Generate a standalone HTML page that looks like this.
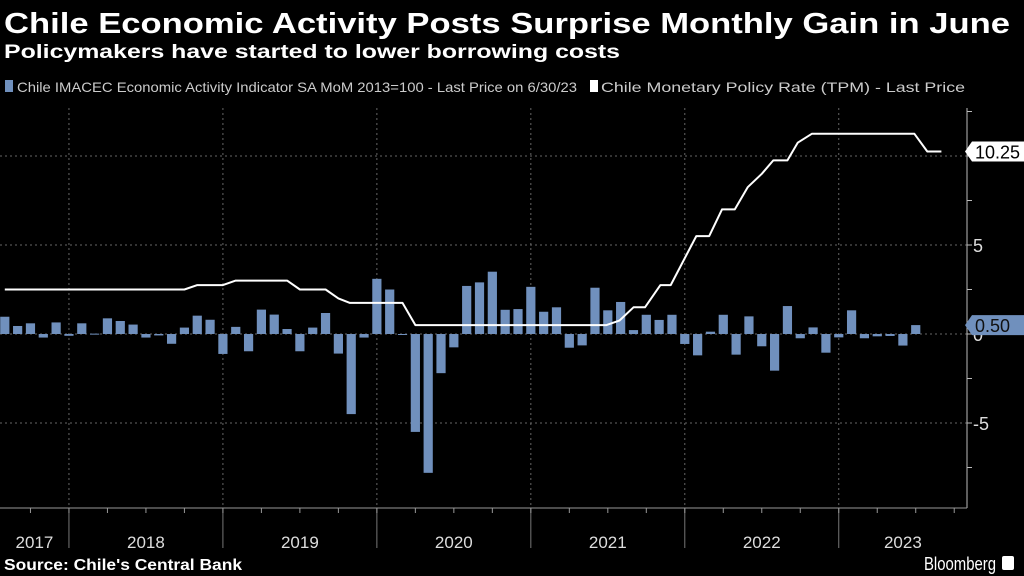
<!DOCTYPE html>
<html><head><meta charset="utf-8"><style>
html,body{margin:0;padding:0;background:#000;width:1024px;height:576px;overflow:hidden}
svg{display:block;font-family:"Liberation Sans",sans-serif}
</style></head><body>
<svg id="chart" width="1024" height="576" viewBox="0 0 1024 576" xmlns="http://www.w3.org/2000/svg">
<rect width="1024" height="576" fill="#000"/>
<text x="4" y="33" fill="#fff" font-weight="bold" font-size="29" textLength="1006" lengthAdjust="spacingAndGlyphs">Chile Economic Activity Posts Surprise Monthly Gain in June</text>
<text x="4" y="58" fill="#fff" font-weight="bold" font-size="19" textLength="616" lengthAdjust="spacingAndGlyphs">Policymakers have started to lower borrowing costs</text>
<rect x="5" y="80" width="8" height="12" fill="#7090bd"/>
<text x="17" y="92" fill="#ccc" font-size="14" textLength="560" lengthAdjust="spacingAndGlyphs">Chile IMACEC Economic Activity Indicator SA MoM 2013=100 - Last Price on 6/30/23</text>
<rect x="590" y="80" width="8" height="12" fill="#fff"/>
<text x="601" y="92" fill="#ccc" font-size="14" textLength="364" lengthAdjust="spacingAndGlyphs">Chile Monetary Policy Rate (TPM) - Last Price</text>
<g id="grid"></g><g id="bars"></g><g id="line"></g><g id="axes"></g>
<text x="4" y="570" fill="#fff" font-weight="bold" font-size="16" textLength="238" lengthAdjust="spacingAndGlyphs">Source: Chile's Central Bank</text>
<text x="924" y="570" fill="#fff" font-size="18" textLength="72" lengthAdjust="spacingAndGlyphs">Bloomberg</text>
<rect x="1002" y="556" width="12" height="14" rx="2" fill="#fff"/>
</svg>
<script>
const months = ["Jul17","Aug17","Sep17","Oct17","Nov17","Dec17","Jan18","Feb18","Mar18","Apr18","May18","Jun18","Jul18","Aug18","Sep18","Oct18","Nov18","Dec18","Jan19","Feb19","Mar19","Apr19","May19","Jun19","Jul19","Aug19","Sep19","Oct19","Nov19","Dec19","Jan20","Feb20","Mar20","Apr20","May20","Jun20","Jul20","Aug20","Sep20","Oct20","Nov20","Dec20","Jan21","Feb21","Mar21","Apr21","May21","Jun21","Jul21","Aug21","Sep21","Oct21","Nov21","Dec21","Jan22","Feb22","Mar22","Apr22","May22","Jun22","Jul22","Aug22","Sep22","Oct22","Nov22","Dec22","Jan23","Feb23","Mar23","Apr23","May23","Jun23"];
const imacec = [0.97,0.45,0.6,-0.2,0.65,-0.1,0.6,0.02,0.88,0.73,0.53,-0.2,-0.08,-0.55,0.36,1.03,0.8,-1.12,0.4,-0.97,1.37,1.09,0.28,-0.97,0.36,1.18,-1.1,-4.5,-0.2,3.1,2.5,-0.05,-5.5,-7.8,-2.2,-0.75,2.7,2.9,3.5,1.36,1.4,2.65,1.25,1.5,-0.77,-0.64,2.6,1.33,1.8,0.22,1.08,0.79,1.08,-0.56,-1.2,0.13,1.08,-1.16,0.99,-0.69,-2.06,1.57,-0.24,0.37,-1.05,-0.19,1.33,-0.24,-0.13,-0.11,-0.65,0.5];
const tpmMonths = [0,14.0,15.0,17.0,18.0,22.0,23.0,25.0,26.0,26.9,31.0,32.0,46.9,47.9,49.0,49.9,51.1,51.9,53.9,54.9,55.9,56.9,57.9,59.0,59.9,61.0,61.8,62.9,70.9,71.9,73.0];
const tpmValues = [2.5,2.5,2.75,2.75,3.0,3.0,2.5,2.5,2.0,1.75,1.75,0.5,0.5,0.75,1.5,1.5,2.75,2.75,5.5,5.5,7.0,7.0,8.25,9.0,9.75,9.75,10.75,11.25,11.25,10.25,10.25];
const yearLabels = ["2017","2018","2019","2020","2021","2022","2023"];
const yTickLabels = ["5","0","-5"];
const yTickValues = [5,0,-5];

const NS="http://www.w3.org/2000/svg";
const X0=4.8, MW=12.83, Y0=334, YU=17.8, RIGHT=967, TOP=108, BOTTOM=508;
const xOf=m=>X0+m*MW;           // m = months since end of Jul 2017
const yOf=v=>Y0-v*YU;
function mk(tag,parent,attrs){const e=document.createElementNS(NS,tag);for(const k in attrs)e.setAttribute(k,attrs[k]);parent.appendChild(e);return e;}
const grid=document.getElementById('grid'),bars=document.getElementById('bars'),line=document.getElementById('line'),axes=document.getElementById('axes');

// horizontal grid
[10,5,0,-5].forEach(v=>{
  const g=mk('line',grid,{x1:0,x2:RIGHT,y1:yOf(v),y2:yOf(v),stroke:'#666','stroke-width':1,'stroke-dasharray':'2,3'});
  
  
});
// year boundaries: Jan of each year = end of Dec = months index 5 + 12k
const bounds=[5,17,29,41,53,65];
bounds.forEach(m=>{
  const x=xOf(m);
  const g=mk('line',grid,{x1:x,x2:x,y1:TOP,y2:BOTTOM,stroke:'#666','stroke-width':1,'stroke-dasharray':'2,3'});
  
  
  const s=mk('line',axes,{x1:x,x2:x,y1:BOTTOM,y2:548,stroke:'#777','stroke-width':1});
  
  
});
// bars
imacec.forEach((v,i)=>{
  const x=xOf(i)-4.6, y=Math.min(yOf(v),Y0), h=Math.max(Math.abs(yOf(v)-Y0),1);
  const r=mk('rect',bars,{x:x,y:y,width:9.2,height:h,fill:'#7090bd'});
  
  
});
// line
const pts=tpmMonths.map((m,i)=>xOf(m).toFixed(1)+','+yOf(tpmValues[i]).toFixed(1)).join(' ');
const pl=mk('polyline',line,{points:pts,fill:'none',stroke:'#fff','stroke-width':2,'stroke-linejoin':'round'});



// axes
const ra=mk('line',axes,{x1:RIGHT,x2:RIGHT,y1:TOP,y2:BOTTOM,stroke:'#bbb','stroke-width':1});


const xa=mk('line',axes,{x1:0,x2:RIGHT,y1:BOTTOM,y2:BOTTOM,stroke:'#999','stroke-width':1});


for(let v=-7.5;v<=12.5;v+=2.5){
  const y=yOf(v); if(y<TOP||y>BOTTOM) continue;
  const t=mk('line',axes,{x1:RIGHT,x2:RIGHT+5,y1:y,y2:y,stroke:'#bbb','stroke-width':1});
  
  
}
yTickValues.forEach((v,i)=>{
  const t=mk('text',axes,{x:973,y:yOf(v)+7,fill:'#ddd','font-size':18});
  t.textContent=yTickLabels[i];
  
  
});
for(let m=2;m<=74;m+=3){
  const x=xOf(m); if(x>RIGHT) break;
  const t=mk('line',axes,{x1:x,x2:x,y1:BOTTOM,y2:BOTTOM+5,stroke:'#999','stroke-width':1});
  
  
}
const centers=[0,11,23,35,47,59,71.5];
yearLabels.forEach((lab,i)=>{
  let cx;
  if(i===0) cx=xOf(5)/2; else if(i===6) cx=(xOf(65)+RIGHT)/2; else cx=xOf(bounds[i-1]+6);
  const t=mk('text',axes,{x:cx,y:548,fill:'#ddd','font-size':17,'text-anchor':'middle'});
  t.textContent=lab;
  
  
});
// value labels
function tag(v,label,bg,fg,name){
  const y=yOf(v);
  const p=mk('path',axes,{d:`M965,${y} L972,${y-10} L1024,${y-10} L1024,${y+10} L972,${y+10} Z`,fill:bg});
  
  
  const t=mk('text',axes,{x:975,y:y+7,fill:fg,'font-size':18});
  t.textContent=label;
  
  
}
tag(tpmValues[tpmValues.length-1],tpmValues[tpmValues.length-1].toFixed(2),'#fff','#000','tpm-last-value');
tag(imacec[imacec.length-1],imacec[imacec.length-1].toFixed(2),'#7090bd','#111','imacec-last-value');
</script>
</body></html>
